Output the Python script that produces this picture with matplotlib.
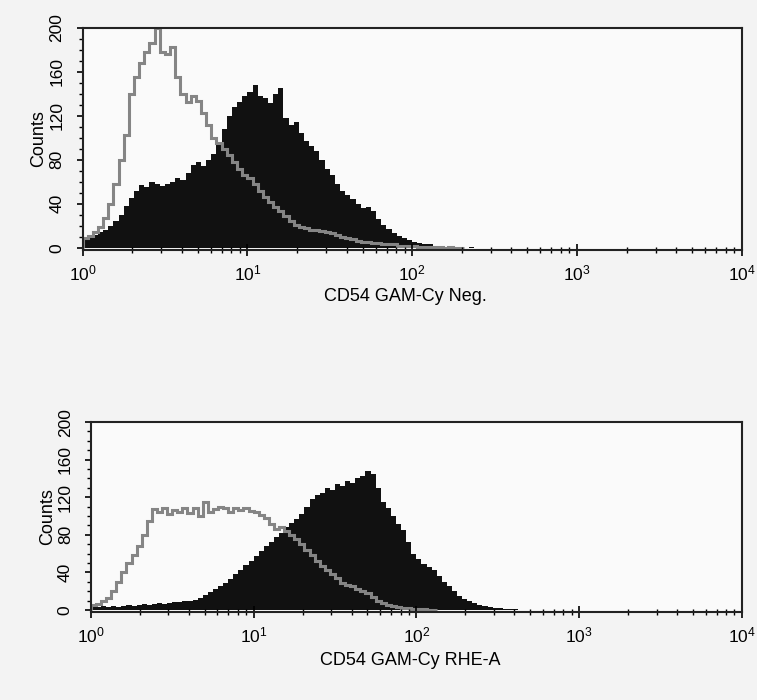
import numpy as np
import matplotlib
matplotlib.use("Agg")
import matplotlib.pyplot as plt
from matplotlib.ticker import MultipleLocator, LogLocator, NullFormatter

plt.rcParams['font.family'] = ['Liberation Sans', 'DejaVu Sans']

# -----------------------------
# Histogram data: 32 channels per decade, starting at 10^0
# -----------------------------
CHANNELS_PER_DECADE = 32

neg_control = [
    9, 11, 14, 19, 27, 40, 58, 80, 103, 140, 155, 168, 178, 186, 200, 178,
    176, 183, 155, 140, 133, 138, 134, 123, 112, 100, 95, 90, 84, 78, 72, 66,
    63, 58, 52, 46, 42, 37, 33, 29, 24, 21, 19, 18, 16, 16, 15, 14,
    13, 12, 10, 9, 8, 6, 5, 5, 4, 4, 3, 3, 3, 2, 2, 2,
    2, 1, 1, 1, 1, 1, 0, 1, 0, 0,
]
neg_stained = [
    8, 9, 12, 14, 16, 20, 24, 30, 38, 45, 52, 57, 55, 60, 58, 56,
    58, 60, 63, 62, 68, 75, 78, 74, 80, 85, 95, 108, 120, 128, 133, 138,
    142, 148, 138, 136, 132, 140, 145, 118, 112, 114, 104, 97, 93, 88, 80, 72,
    66, 58, 52, 48, 44, 40, 36, 37, 33, 26, 21, 17, 13, 11, 9, 7,
    5, 4, 3, 3, 2, 2, 1, 1, 1, 1, 0, 1, 0, 0,
]

rhe_control = [
    5, 6, 9, 13, 20, 30, 40, 50, 58, 68, 80, 95, 107, 104, 108, 102,
    106, 104, 109, 103, 108, 100, 115, 104, 107, 110, 108, 104, 109, 106, 108, 105,
    104, 101, 98, 92, 86, 88, 84, 80, 75, 70, 64, 58, 52, 47, 42, 38,
    34, 29, 27, 25, 22, 20, 18, 14, 10, 7, 5, 4, 3, 2, 2, 1,
    1, 1, 0, 0,
]
rhe_stained = [
    4, 3, 4, 3, 4, 3, 4, 5, 4, 5, 6, 5, 6, 7, 6, 7,
    8, 8, 9, 10, 11, 13, 16, 19, 22, 26, 29, 33, 38, 43, 48, 52,
    57, 63, 68, 72, 78, 82, 88, 93, 97, 102, 110, 118, 122, 125, 130, 128,
    134, 132, 137, 135, 140, 143, 148, 145, 130, 115, 108, 100, 92, 85, 72, 60,
    54, 49, 46, 42, 36, 30, 25, 20, 15, 12, 9, 7, 5, 4, 3, 2,
    2, 1, 1, 1, 0, 0,
]

panels = [
    ("CD54 GAM-Cy Neg.", neg_control, neg_stained),
    ("CD54 GAM-Cy RHE-A", rhe_control, rhe_stained),
]

y_ticks = [0, 40, 80, 120, 160, 200]

# axes rectangles in figure fractions (left, bottom, width, height)
rects = [
    (0.109, 0.643, 0.871, 0.317),
    (0.120, 0.126, 0.860, 0.271),
]
xlabel_y = [-0.21, -0.255]


def channel_edges(n):
    return 10.0 ** (np.arange(n + 1) / CHANNELS_PER_DECADE)


fig = plt.figure(figsize=(7.57, 7.0), dpi=100, facecolor="#f3f3f3")

for (xlabel, control, stained), rect, ly in zip(panels, rects, xlabel_y):
    ax = fig.add_axes(rect)
    ax.set_facecolor("#fafafa")

    ax.stairs(stained, channel_edges(len(stained)), fill=True,
              color="#111111", baseline=0)
    ax.stairs(control, channel_edges(len(control)), color="#858585",
              linewidth=2.2, baseline=0)

    ax.set_xscale("log")
    ax.set_xlim(1, 1e4)
    ax.set_ylim(-2, 200)

    ax.xaxis.set_major_locator(LogLocator(base=10, numticks=10))
    ax.xaxis.set_minor_locator(LogLocator(base=10, subs=np.arange(2, 10), numticks=40))
    ax.xaxis.set_minor_formatter(NullFormatter())
    ax.tick_params(axis="x", which="major", direction="inout", length=8,
                   width=1.2, labelsize=12.5, pad=6)
    ax.tick_params(axis="x", which="minor", direction="inout", length=5, width=1)

    ax.set_yticks(y_ticks)
    ax.yaxis.set_minor_locator(MultipleLocator(10))
    ax.tick_params(axis="y", which="major", direction="out", length=4,
                   width=1.2, labelsize=12.5, pad=9)
    ax.tick_params(axis="y", which="minor", direction="out", length=3, width=1)
    for lab in ax.get_yticklabels():
        lab.set_rotation(90)
        lab.set_va("center")

    for sp in ax.spines.values():
        sp.set_linewidth(1.5)
        sp.set_color("#222222")

    ax.set_xlabel(xlabel, fontsize=13, va="center")
    ax.xaxis.set_label_coords(0.49, ly)
    ax.set_ylabel("Counts", fontsize=13, va="center")
    ax.yaxis.set_label_coords(-0.067, 0.5)

fig.savefig("out.png", dpi=100, facecolor=fig.get_facecolor())
